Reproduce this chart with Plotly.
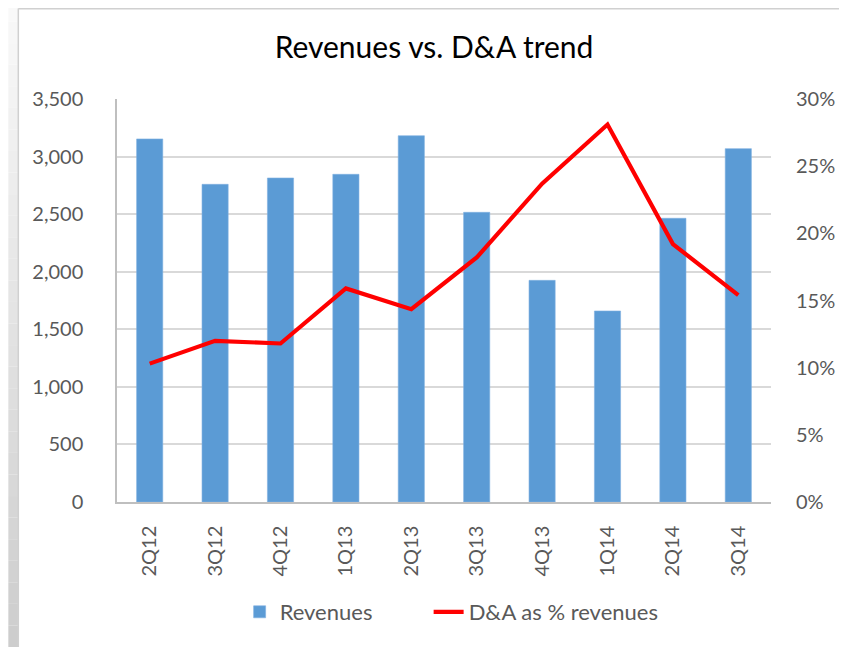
import plotly.graph_objects as go

quarters = ["2Q12", "3Q12", "4Q12", "1Q13", "2Q13", "3Q13", "4Q13", "1Q14", "2Q14", "3Q14"]
revenues = [3153, 2759, 2814, 2846, 3181, 2516, 1925, 1659, 2464, 3069]
da_pct = [0.103, 0.120, 0.118, 0.159, 0.1435, 0.182, 0.237, 0.281, 0.192, 0.154]

# page has an 8px body margin; figure sized to fill the rest of the window
OFF = 8
W, H = 847 - OFF, 647 - OFF
L, R, T, B = 117 - OFF, 847 - 773, 99 - OFF, 647 - 502
PW, PH = W - L - R, H - T - B

def px_x(p):  # page pixel -> paper x
    return (p - OFF - L) / PW

def px_y(p):  # page pixel -> paper y
    return (H - B - (p - OFF)) / PH

FONT = "Lato"
GREY = "#595959"

fig = go.Figure()
fig.add_trace(go.Bar(
    x=quarters, y=revenues, name="Revenues",
    marker=dict(color="#5B9BD5", line=dict(color="#7fb0e0", width=0.6)),
    yaxis="y", legendwidth=144,
))
fig.add_trace(go.Scatter(
    x=quarters, y=da_pct, name="D&A as % revenues",
    mode="lines", line=dict(color="#FF0000", width=4.2),
    yaxis="y2", legendwidth=260,
))

shapes = []
n = 30
for i in range(n):
    y0 = i * 647 / n
    y1 = (i + 1) * 647 / n
    t = (i + 0.5) / n
    g = int(250 - 45 * t)
    shapes.append(dict(type="rect", xref="paper", yref="paper",
                       x0=px_x(OFF), x1=px_x(18), y0=px_y(y1), y1=px_y(y0),
                       fillcolor=f"rgb({g},{g},{g})", line=dict(width=0), layer="below"))
shapes.append(dict(type="line", xref="paper", yref="paper",
                   x0=px_x(18), x1=px_x(18), y0=px_y(8.5), y1=px_y(647),
                   line=dict(color="#d0d0d0", width=1.5)))
shapes.append(dict(type="line", xref="paper", yref="paper",
                   x0=px_x(18), x1=px_x(847), y0=px_y(8.7), y1=px_y(8.7),
                   line=dict(color="#d0d0d0", width=1.5)))

fig.update_layout(
    width=W, height=H,
    margin=dict(l=L, r=R, t=T, b=B),
    paper_bgcolor="white", plot_bgcolor="white",
    font=dict(family=FONT, color=GREY, size=20),
    title=dict(text="Revenues vs. D&A trend", x=(434 - OFF) / W, xanchor="center",
               y=1 - (47 - OFF) / H, yanchor="middle", xref="container", yref="container",
               font=dict(family=FONT, size=30, color="#000000")),
    bargap=0.6,
    showlegend=True,
    legend=dict(orientation="h", x=px_x(240), xanchor="left",
                y=px_y(612), yanchor="middle", font=dict(size=22, color=GREY),
                bgcolor="rgba(0,0,0,0)"),
    xaxis=dict(showline=True, linecolor="#bfbfbf", linewidth=1.5,
               tickangle=-90, ticks="", ticklabelstandoff=14,
               tickfont=dict(size=20, color=GREY)),
    yaxis=dict(range=[0, 3500], dtick=500, tickformat=",",
               showgrid=True, gridcolor="#d9d9d9", gridwidth=1.5,
               showline=True, linecolor="#bfbfbf", linewidth=1.5,
               zeroline=False, ticklabelstandoff=28,
               tickfont=dict(size=20, color=GREY)),
    yaxis2=dict(range=[0, 0.30], dtick=0.05, tickformat=".0%",
                overlaying="y", side="right", showgrid=False,
                showline=False, zeroline=False, ticklabelstandoff=24,
                tickfont=dict(size=20, color=GREY)),
    shapes=shapes,
)

fig.write_html("out.html")
